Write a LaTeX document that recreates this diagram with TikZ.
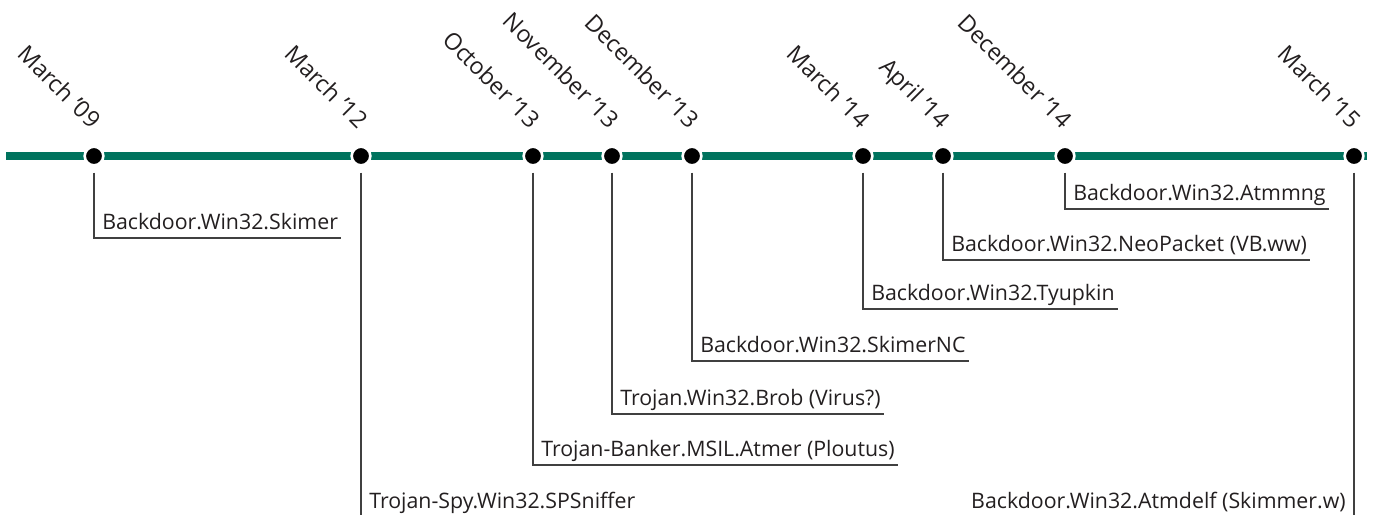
\documentclass[tikz,border=0pt]{standalone}
\usepackage{fontspec}
\setmainfont{Open Sans}
\usetikzlibrary{positioning}
\definecolor{timegreen}{RGB}{0,115,94}
\definecolor{inkgray}{RGB}{35,31,32}
\tikzset{
  dot/.style={circle,fill=black,draw=white,line width=2pt,minimum size=14pt,inner sep=0pt},
  datelbl/.style={rotate=-45,anchor=base east,inner sep=0pt,text=inkgray,
    font=\fontsize{17.5}{19}\selectfont},
  evlbl/.style={anchor=base west,inner sep=0pt,text=inkgray,
    font=\fontsize{16}{18}\selectfont},
  leader/.style={draw=black!75,line width=1pt}
}
\begin{document}
\begin{tikzpicture}[x=0.75pt,y=-0.75pt]
\useasboundingbox (0,0) rectangle (1381,515);
% time axis
\coordinate (axisL) at (6,156);
\coordinate (axisR) at (1367,156);
\draw[timegreen,line width=6pt] (axisL) -- (axisR);
% dots
\node[dot] (d1) at (94,156) {};
\node[dot] (d2) at (361,156) {};
\node[dot] (d3) at (533,156) {};
\node[dot] (d4) at (612,156) {};
\node[dot] (d5) at (692,156) {};
\node[dot] (d6) at (863,156) {};
\node[dot] (d7) at (943,156) {};
\node[dot] (d8) at (1065,156) {};
\node[dot] (d9) at (1354,156) {};
% dates
\node[datelbl] (t1) at (91,130) {March ’09};
\node[datelbl] (t2) at (358,130) {March ’12};
\node[datelbl] (t3) at (530,130) {October ’13};
\node[datelbl] (t4) at (609,130) {November ’13};
\node[datelbl] (t5) at (689,130) {December ’13};
\node[datelbl] (t6) at (860,130) {March ’14};
\node[datelbl] (t7) at (940,130) {April ’14};
\node[datelbl] (t8) at (1062,130) {December ’14};
\node[datelbl] (t9) at (1351,130) {March ’15};
% samples
\node[evlbl] (e1) at (102,229) {Backdoor.Win32.Skimer};
\node[evlbl] (e2) at (369,508) {Trojan-Spy.Win32.SPSniffer};
\node[evlbl] (e3) at (541,456) {Trojan-Banker.MSIL.Atmer (Ploutus)};
\node[evlbl] (e4) at (620,405) {Trojan.Win32.Brob (Virus?)};
\node[evlbl] (e5) at (700,352) {Backdoor.Win32.SkimerNC};
\node[evlbl] (e6) at (871,300) {Backdoor.Win32.Tyupkin};
\node[evlbl] (e7) at (951,251) {Backdoor.Win32.NeoPacket (VB.ww)};
\node[evlbl] (e8) at (1073,200) {Backdoor.Win32.Atmmng};
\node[evlbl,anchor=base east] (e9) at (1346,508) {Backdoor.Win32.Atmdelf (Skimmer.w)};
% leaders
\coordinate (b2) at (361,515);
\coordinate (b9) at (1354,515);
\draw[leader] ([yshift=-4.5pt]d1.south) |- ([shift={(2.25pt,-6.75pt)}]e1.base east);
\draw[leader] ([yshift=-4.5pt]d2.south) -- (b2);
\draw[leader] ([yshift=-4.5pt]d3.south) |- ([shift={(2.25pt,-6.75pt)}]e3.base east);
\draw[leader] ([yshift=-4.5pt]d4.south) |- ([shift={(2.25pt,-6.75pt)}]e4.base east);
\draw[leader] ([yshift=-4.5pt]d5.south) |- ([shift={(2.25pt,-6.75pt)}]e5.base east);
\draw[leader] ([yshift=-4.5pt]d6.south) |- ([shift={(2.25pt,-6.75pt)}]e6.base east);
\draw[leader] ([yshift=-4.5pt]d7.south) |- ([shift={(2.25pt,-6.75pt)}]e7.base east);
\draw[leader] ([yshift=-4.5pt]d8.south) |- ([shift={(2.25pt,-6.75pt)}]e8.base east);
\draw[leader] ([yshift=-4.5pt]d9.south) -- (b9);
\end{tikzpicture}
\end{document}
